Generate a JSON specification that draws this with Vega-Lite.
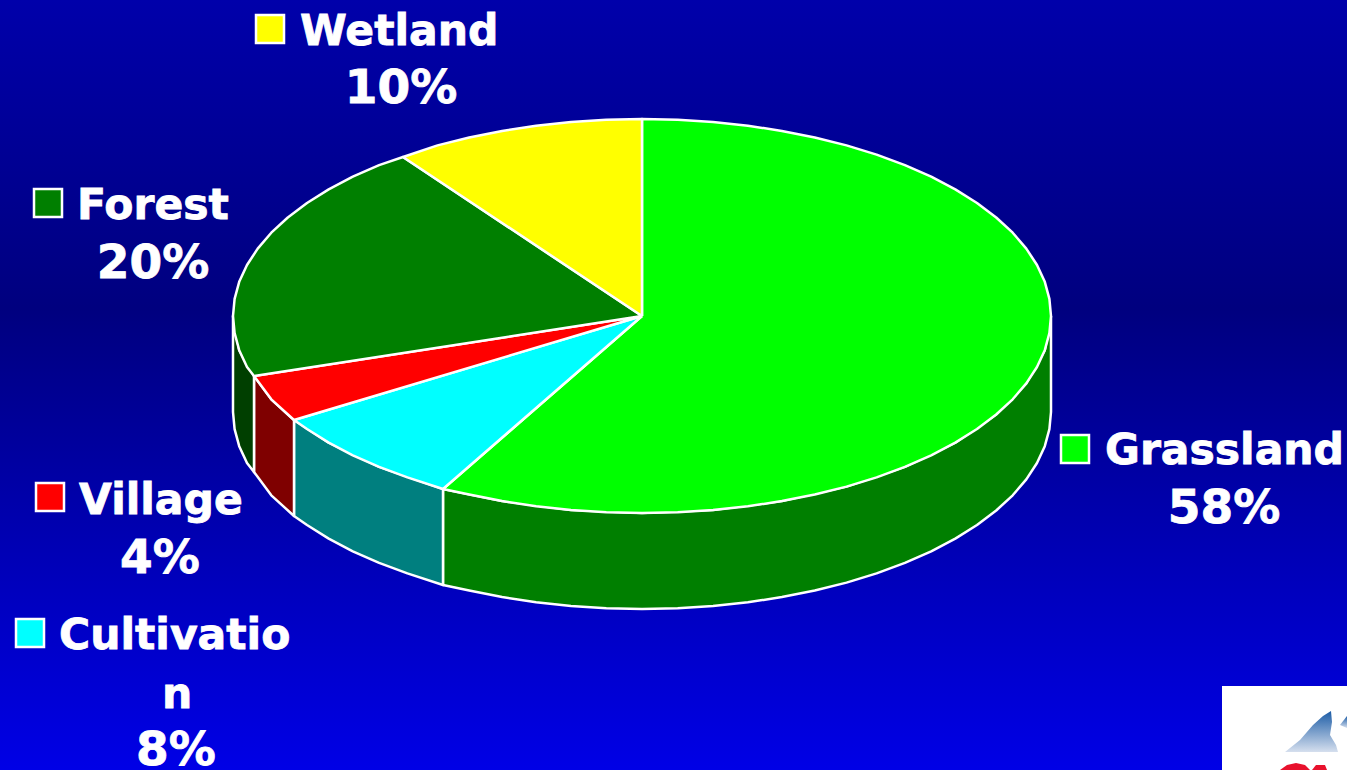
{"$schema":"https://vega.github.io/schema/vega-lite/v6.json","width":1347,"height":770,"padding":0,"autosize":"none","background":"#0000a0","view":{"stroke":null},
"datasets":{
"canvas":[{"x":0,"x2":1347,"y":0,"y2":770}],
"logoBox":[{"x":1222,"x2":1347,"y":686,"y2":770}],
"logoPeak":[{"part":"peak1","n":0,"x":1285,"y":752},{"part":"peak1","n":1,"x":1300,"y":740},{"part":"peak1","n":2,"x":1313,"y":725},{"part":"peak1","n":3,"x":1323,"y":716},{"part":"peak1","n":4,"x":1331,"y":711},{"part":"peak1","n":5,"x":1332,"y":722},{"part":"peak1","n":6,"x":1330,"y":735},{"part":"peak1","n":7,"x":1336,"y":745},{"part":"peak1","n":8,"x":1338,"y":752},{"part":"peak1","n":9,"x":1285,"y":752},{"part":"peak2","n":0,"x":1340,"y":725},{"part":"peak2","n":1,"x":1347,"y":716},{"part":"peak2","n":2,"x":1347,"y":728},{"part":"peak2","n":3,"x":1340,"y":725}],
"logoRed":[{"part":"r1","n":0,"x":1280,"y":770},{"part":"r1","n":1,"x":1287,"y":765},{"part":"r1","n":2,"x":1296,"y":763},{"part":"r1","n":3,"x":1305,"y":765},{"part":"r1","n":4,"x":1310,"y":770},{"part":"r1","n":5,"x":1280,"y":770},{"part":"r2","n":0,"x":1312,"y":770},{"part":"r2","n":1,"x":1316,"y":765},{"part":"r2","n":2,"x":1325,"y":765},{"part":"r2","n":3,"x":1327,"y":770},{"part":"r2","n":4,"x":1312,"y":770}],
"pie":[
{"part":"Grassland side","n":0,"x":1051,"y":316},{"part":"Grassland side","n":1,"x":1044.8,"y":350.2},{"part":"Grassland side","n":2,"x":1026.3,"y":383.4},{"part":"Grassland side","n":3,"x":996.2,"y":414.5},{"part":"Grassland side","n":4,"x":955.3,"y":442.6},{"part":"Grassland side","n":5,"x":904.9,"y":466.9},{"part":"Grassland side","n":6,"x":846.5,"y":486.6},{"part":"Grassland side","n":7,"x":781.9,"y":501.1},{"part":"Grassland side","n":8,"x":713,"y":510},{"part":"Grassland side","n":9,"x":642,"y":513},{"part":"Grassland side","n":10,"x":571,"y":510},{"part":"Grassland side","n":11,"x":502.1,"y":501.1},{"part":"Grassland side","n":12,"x":443,"y":489},{"part":"Grassland side","n":13,"x":443,"y":585},{"part":"Grassland side","n":13.5,"x":469.2,"y":590.5},{"part":"Grassland side","n":14,"x":502.1,"y":597.1},{"part":"Grassland side","n":14.5,"x":536.1,"y":602.3},{"part":"Grassland side","n":15,"x":571,"y":606},{"part":"Grassland side","n":15.5,"x":606.3,"y":608.3},{"part":"Grassland side","n":16,"x":642,"y":609},{"part":"Grassland side","n":16.5,"x":677.7,"y":608.3},{"part":"Grassland side","n":17,"x":713,"y":606},{"part":"Grassland side","n":17.5,"x":747.9,"y":602.3},{"part":"Grassland side","n":18,"x":781.9,"y":597.1},{"part":"Grassland side","n":18.5,"x":814.8,"y":590.5},{"part":"Grassland side","n":19,"x":846.5,"y":582.6},{"part":"Grassland side","n":19.5,"x":876.6,"y":573.4},{"part":"Grassland side","n":20,"x":904.9,"y":562.9},{"part":"Grassland side","n":20.5,"x":931.2,"y":551.3},{"part":"Grassland side","n":21,"x":955.3,"y":538.6},{"part":"Grassland side","n":21.5,"x":977,"y":525},{"part":"Grassland side","n":22,"x":996.2,"y":510.5},{"part":"Grassland side","n":22.5,"x":1012.7,"y":495.3},{"part":"Grassland side","n":23,"x":1026.3,"y":479.4},{"part":"Grassland side","n":23.5,"x":1037,"y":463},{"part":"Grassland side","n":24,"x":1044.8,"y":446.2},{"part":"Grassland side","n":24.5,"x":1049.4,"y":429.2},{"part":"Grassland side","n":25,"x":1051,"y":412},{"part":"Grassland side","n":26,"x":1051,"y":316},
{"part":"Cultivation side","n":0,"x":443,"y":489},{"part":"Cultivation side","n":1,"x":379.1,"y":466.9},{"part":"Cultivation side","n":2,"x":328.7,"y":442.6},{"part":"Cultivation side","n":3,"x":294,"y":420},{"part":"Cultivation side","n":4,"x":294,"y":516},{"part":"Cultivation side","n":4.5,"x":307,"y":525},{"part":"Cultivation side","n":5,"x":328.7,"y":538.6},{"part":"Cultivation side","n":5.5,"x":352.8,"y":551.3},{"part":"Cultivation side","n":6,"x":379.1,"y":562.9},{"part":"Cultivation side","n":6.5,"x":407.4,"y":573.4},{"part":"Cultivation side","n":7,"x":443,"y":585},{"part":"Cultivation side","n":8,"x":443,"y":489},
{"part":"Village side","n":0,"x":294,"y":420},{"part":"Village side","n":1,"x":271.3,"y":399.3},{"part":"Village side","n":2,"x":254,"y":376},{"part":"Village side","n":3,"x":254,"y":472},{"part":"Village side","n":4,"x":271.3,"y":495.3},{"part":"Village side","n":5,"x":294,"y":516},{"part":"Village side","n":6,"x":294,"y":420},
{"part":"Forest side","n":0,"x":254,"y":376},{"part":"Forest side","n":1,"x":239.2,"y":350.2},{"part":"Forest side","n":2,"x":233,"y":316},{"part":"Forest side","n":3,"x":233,"y":412},{"part":"Forest side","n":3.5,"x":234.6,"y":429.2},{"part":"Forest side","n":4,"x":239.2,"y":446.2},{"part":"Forest side","n":4.5,"x":247,"y":463},{"part":"Forest side","n":5,"x":254,"y":472},{"part":"Forest side","n":6,"x":254,"y":376},
{"part":"Grassland","n":0,"x":642,"y":316},{"part":"Grassland","n":1,"x":642,"y":119},{"part":"Grassland","n":1.5,"x":677.7,"y":119.7},{"part":"Grassland","n":2,"x":713,"y":122},{"part":"Grassland","n":2.5,"x":747.9,"y":125.7},{"part":"Grassland","n":3,"x":781.9,"y":130.9},{"part":"Grassland","n":3.5,"x":814.8,"y":137.5},{"part":"Grassland","n":4,"x":846.5,"y":145.4},{"part":"Grassland","n":4.5,"x":876.6,"y":154.6},{"part":"Grassland","n":5,"x":904.9,"y":165.1},{"part":"Grassland","n":5.5,"x":931.2,"y":176.7},{"part":"Grassland","n":6,"x":955.3,"y":189.4},{"part":"Grassland","n":6.5,"x":977,"y":203},{"part":"Grassland","n":7,"x":996.2,"y":217.5},{"part":"Grassland","n":7.5,"x":1012.7,"y":232.7},{"part":"Grassland","n":8,"x":1026.3,"y":248.6},{"part":"Grassland","n":8.5,"x":1037,"y":265},{"part":"Grassland","n":9,"x":1044.8,"y":281.8},{"part":"Grassland","n":9.5,"x":1049.4,"y":298.8},{"part":"Grassland","n":10,"x":1051,"y":316},{"part":"Grassland","n":10.5,"x":1049.4,"y":333.2},{"part":"Grassland","n":11,"x":1044.8,"y":350.2},{"part":"Grassland","n":11.5,"x":1037,"y":367},{"part":"Grassland","n":12,"x":1026.3,"y":383.4},{"part":"Grassland","n":12.5,"x":1012.7,"y":399.3},{"part":"Grassland","n":13,"x":996.2,"y":414.5},{"part":"Grassland","n":13.5,"x":977,"y":429},{"part":"Grassland","n":14,"x":955.3,"y":442.6},{"part":"Grassland","n":14.5,"x":931.2,"y":455.3},{"part":"Grassland","n":15,"x":904.9,"y":466.9},{"part":"Grassland","n":15.5,"x":876.6,"y":477.4},{"part":"Grassland","n":16,"x":846.5,"y":486.6},{"part":"Grassland","n":16.5,"x":814.8,"y":494.5},{"part":"Grassland","n":17,"x":781.9,"y":501.1},{"part":"Grassland","n":17.5,"x":747.9,"y":506.3},{"part":"Grassland","n":18,"x":713,"y":510},{"part":"Grassland","n":18.5,"x":677.7,"y":512.3},{"part":"Grassland","n":19,"x":642,"y":513},{"part":"Grassland","n":19.5,"x":606.3,"y":512.3},{"part":"Grassland","n":20,"x":571,"y":510},{"part":"Grassland","n":20.5,"x":536.1,"y":506.3},{"part":"Grassland","n":21,"x":502.1,"y":501.1},{"part":"Grassland","n":21.5,"x":469.2,"y":494.5},{"part":"Grassland","n":22,"x":443,"y":489},{"part":"Grassland","n":23,"x":642,"y":316},
{"part":"Cultivation","n":0,"x":642,"y":316},{"part":"Cultivation","n":1,"x":443,"y":489},{"part":"Cultivation","n":1.5,"x":407.4,"y":477.4},{"part":"Cultivation","n":2,"x":379.1,"y":466.9},{"part":"Cultivation","n":2.5,"x":352.8,"y":455.3},{"part":"Cultivation","n":3,"x":328.7,"y":442.6},{"part":"Cultivation","n":3.5,"x":307,"y":429},{"part":"Cultivation","n":4,"x":294,"y":420},{"part":"Cultivation","n":5,"x":642,"y":316},
{"part":"Village","n":0,"x":642,"y":316},{"part":"Village","n":1,"x":294,"y":420},{"part":"Village","n":2,"x":271.3,"y":399.3},{"part":"Village","n":3,"x":254,"y":376},{"part":"Village","n":4,"x":642,"y":316},
{"part":"Forest","n":0,"x":642,"y":316},{"part":"Forest","n":1,"x":254,"y":376},{"part":"Forest","n":1.5,"x":247,"y":367},{"part":"Forest","n":2,"x":239.2,"y":350.2},{"part":"Forest","n":2.5,"x":234.6,"y":333.2},{"part":"Forest","n":3,"x":233,"y":316},{"part":"Forest","n":3.5,"x":234.6,"y":298.8},{"part":"Forest","n":4,"x":239.2,"y":281.8},{"part":"Forest","n":4.5,"x":247,"y":265},{"part":"Forest","n":5,"x":257.7,"y":248.6},{"part":"Forest","n":5.5,"x":271.3,"y":232.7},{"part":"Forest","n":6,"x":287.8,"y":217.5},{"part":"Forest","n":6.5,"x":307,"y":203},{"part":"Forest","n":7,"x":328.7,"y":189.4},{"part":"Forest","n":7.3,"x":352.8,"y":176.7},{"part":"Forest","n":7.6,"x":379.1,"y":165.1},{"part":"Forest","n":8,"x":403,"y":157},{"part":"Forest","n":9,"x":642,"y":316},
{"part":"Wetland","n":0,"x":642,"y":316},{"part":"Wetland","n":1,"x":403,"y":157},{"part":"Wetland","n":2,"x":437.5,"y":145.4},{"part":"Wetland","n":2.5,"x":469.2,"y":137.5},{"part":"Wetland","n":3,"x":502.1,"y":130.9},{"part":"Wetland","n":3.5,"x":536.1,"y":125.7},{"part":"Wetland","n":4,"x":571,"y":122},{"part":"Wetland","n":4.5,"x":606.3,"y":119.7},{"part":"Wetland","n":5,"x":642,"y":119},{"part":"Wetland","n":6,"x":642,"y":316}
],
"keys":[{"part":"Wetland","x":270,"y":29},{"part":"Forest","x":48,"y":203},{"part":"Grassland","x":1075,"y":449},{"part":"Village","x":50,"y":497},{"part":"Cultivation","x":30,"y":633}],
"names":[{"label":"Wetland","x":300,"y":45},{"label":"Forest","x":77,"y":219},{"label":"Grassland","x":1105,"y":464},{"label":"Village","x":79,"y":514},{"label":"Cultivatio","x":59,"y":649}],
"shares":[{"label":"10%","x":401,"y":103},{"label":"20%","x":153,"y":278},{"label":"58%","x":1224,"y":523},{"label":"4%","x":160,"y":573},{"label":"8%","x":176,"y":765}],
"wrapped":[{"label":"n","x":177,"y":708}]
},
"encoding":{
"x":{"field":"x","type":"quantitative","axis":null,"scale":{"domain":[0,1347],"nice":false,"zero":false}},
"y":{"field":"y","type":"quantitative","axis":null,"scale":{"domain":[770,0],"nice":false,"zero":false}}
},
"layer":[
{"data":{"name":"canvas"},"mark":{"type":"rect","fill":{"gradient":"linear","x1":0,"y1":0,"x2":0,"y2":1,"stops":[{"offset":0,"color":"#0000aa"},{"offset":0.4,"color":"#00007f"},{"offset":1,"color":"#0000e6"}]}},"encoding":{"x2":{"field":"x2"},"y2":{"field":"y2"}}},
{"data":{"name":"logoBox"},"mark":{"type":"rect","fill":"#ffffff"},"encoding":{"x2":{"field":"x2"},"y2":{"field":"y2"}}},
{"data":{"name":"logoPeak"},"mark":{"type":"line","fill":{"gradient":"linear","x1":0,"y1":0,"x2":0,"y2":1,"stops":[{"offset":0,"color":"#1c5ca6"},{"offset":1,"color":"#d5dfee"}]},"stroke":null},"encoding":{"detail":{"field":"part"},"order":{"field":"n"}}},
{"data":{"name":"logoRed"},"mark":{"type":"line","fill":"#e8112d","stroke":null},"encoding":{"detail":{"field":"part"},"order":{"field":"n"}}},
{"data":{"name":"pie"},"mark":{"type":"line","stroke":"#ffffff","strokeWidth":2.5,"strokeJoin":"round"},"encoding":{"detail":{"field":"part"},"order":{"field":"n"},"fill":{"field":"part","type":"nominal","legend":null,"scale":{"domain":["Grassland","Wetland","Forest","Village","Cultivation","Grassland side","Cultivation side","Village side","Forest side"],"range":["#00ff00","#ffff00","#007f00","#ff0000","#00ffff","#007f00","#007f7f","#7f0000","#003f00"]}}}},
{"data":{"name":"keys"},"mark":{"type":"square","size":784,"opacity":1,"stroke":"#ffffff","strokeWidth":2.5},"encoding":{"fill":{"field":"part","type":"nominal","legend":null,"scale":{"domain":["Grassland","Wetland","Forest","Village","Cultivation"],"range":["#00ff00","#ffff00","#007f00","#ff0000","#00ffff"]}}}},
{"data":{"name":"names"},"mark":{"type":"text","align":"left","baseline":"alphabetic","font":"DejaVu Sans","fontWeight":"bold","fontSize":42.5,"fill":"#ffffff","stroke":"#ffffff","strokeWidth":0.8},"encoding":{"text":{"field":"label"}}},
{"data":{"name":"wrapped"},"mark":{"type":"text","align":"center","baseline":"alphabetic","font":"DejaVu Sans","fontWeight":"bold","fontSize":42.5,"fill":"#ffffff","stroke":"#ffffff","strokeWidth":0.8},"encoding":{"text":{"field":"label"}}},
{"data":{"name":"shares"},"mark":{"type":"text","align":"center","baseline":"alphabetic","font":"DejaVu Sans","fontWeight":"bold","fontSize":47,"fill":"#ffffff","stroke":"#ffffff","strokeWidth":0.8},"encoding":{"text":{"field":"label"}}}
]}
